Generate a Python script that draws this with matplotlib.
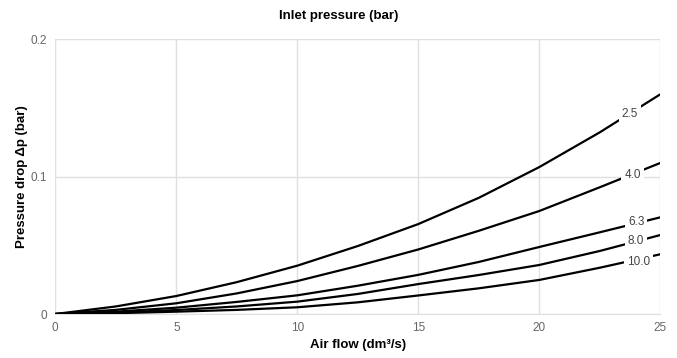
import numpy as np
import matplotlib
matplotlib.use("Agg")
import matplotlib.pyplot as plt

plt.rcParams['font.family'] = ['Liberation Sans', 'DejaVu Sans']

# DATA
air_flow = [0, 2.5, 5, 7.5, 10, 12.5, 15, 17.5, 20, 22.5, 25]
pressures = ["2.5", "4.0", "6.3", "8.0", "10.0"]
drop_25 = [0, 0.0055, 0.0131, 0.0232, 0.0352, 0.0495, 0.0655, 0.0846, 0.107, 0.1323, 0.160]
drop_40 = [0, 0.0030, 0.0078, 0.0150, 0.0240, 0.0350, 0.0470, 0.0606, 0.075, 0.0923, 0.110]
drop_63 = [0, 0.0017, 0.0046, 0.0088, 0.0136, 0.0206, 0.0285, 0.0379, 0.0488, 0.0595, 0.0704]
drop_80 = [0, 0.0010, 0.0029, 0.0055, 0.0090, 0.0146, 0.0218, 0.0284, 0.0357, 0.0459, 0.0575]
drop_100 = [0, 0.0006, 0.0017, 0.0030, 0.0049, 0.0085, 0.0135, 0.0187, 0.0248, 0.0337, 0.0435]
# where the curve labels sit (air flow, pressure drop)
label_x = [23.75, 23.85, 24.0, 24.0, 24.1]
label_y = [0.146, 0.101, 0.067, 0.053, 0.038]

series = [drop_25, drop_40, drop_63, drop_80, drop_100]

fig = plt.figure(figsize=(6.77, 3.58), dpi=100)
ax = fig.add_axes([0.0817, 0.1229, 0.8936, 0.7671])

for vals in series:
    ax.plot(air_flow, vals, color='black', lw=1.6, solid_capstyle='butt', zorder=3)

for name, lx, ly in zip(pressures, label_x, label_y):
    ax.text(lx, ly, name, fontsize=8.5, color='#444444', ha='center', va='center', zorder=4,
            bbox=dict(boxstyle='square,pad=0.25', fc='white', ec='none'))

ax.set_xlim(0, 25)
ax.set_ylim(0, 0.2)
ax.set_xticks([0, 5, 10, 15, 20, 25])
ax.set_yticks([0, 0.1, 0.2])
ax.set_yticklabels(['0', '0.1', '0.2'])
ax.grid(True, color='#e0e0e0', lw=1)
ax.set_axisbelow(True)
for s in ['top', 'right', 'left']:
    ax.spines[s].set_visible(False)
ax.spines['bottom'].set_color('#e0e0e0')
ax.tick_params(length=0, labelsize=8.5, labelcolor='#666666', pad=6)

ax.set_xlabel('Air flow (dm³/s)', fontsize=9.5, fontweight='bold', labelpad=3)
ax.set_ylabel('Pressure drop Δp (bar)', fontsize=9.5, fontweight='bold', labelpad=2)
fig.text(0.5, 0.955, 'Inlet pressure (bar)', fontsize=9.5, fontweight='bold', ha='center', va='center')

fig.savefig('out.png', dpi=100)
